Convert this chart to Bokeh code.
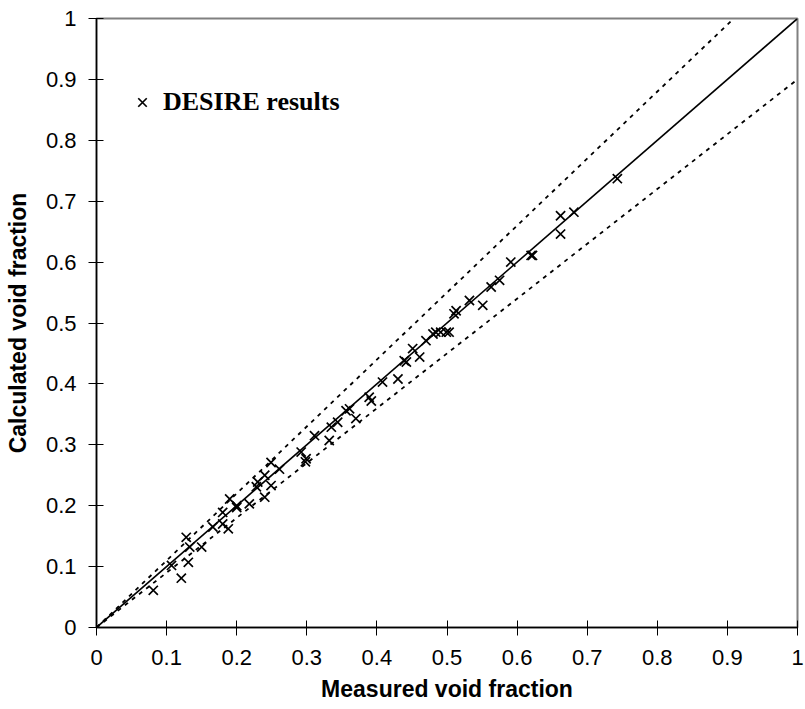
from bokeh.plotting import figure
from bokeh.models import Range1d, Legend, LegendItem, FixedTicker
from bokeh.embed import file_html
from bokeh.resources import INLINE

# Measured vs calculated void fraction (DESIRE results)
measured = [0.081, 0.121, 0.107, 0.131, 0.128, 0.133, 0.150, 0.166, 0.180, 0.188,
            0.190, 0.180, 0.200, 0.218, 0.240, 0.230, 0.240, 0.249, 0.249, 0.261,
            0.299, 0.292, 0.298, 0.311, 0.332, 0.335, 0.344, 0.361, 0.356, 0.370,
            0.389, 0.392, 0.408, 0.430, 0.439, 0.442, 0.461, 0.451, 0.470, 0.484,
            0.499, 0.510, 0.480, 0.491, 0.503, 0.513, 0.532, 0.551, 0.563, 0.575,
            0.591, 0.622, 0.620, 0.662, 0.662, 0.681, 0.743, 0.228, 0.200]
calculated = [0.061, 0.081, 0.102, 0.107, 0.148, 0.132, 0.132, 0.165, 0.170, 0.162,
              0.211, 0.189, 0.197, 0.203, 0.214, 0.239, 0.250, 0.271, 0.233, 0.260,
              0.277, 0.288, 0.272, 0.315, 0.307, 0.329, 0.337, 0.359, 0.356, 0.343,
              0.378, 0.372, 0.403, 0.408, 0.438, 0.436, 0.444, 0.458, 0.471, 0.485,
              0.485, 0.515, 0.482, 0.485, 0.485, 0.520, 0.537, 0.529, 0.559, 0.570,
              0.600, 0.611, 0.611, 0.646, 0.676, 0.682, 0.737, 0.231, 0.200]

# reference lines: perfect agreement and +/-10 % bands
ideal_x = [0.0, 1.0]
ideal_y = [0.0, 1.0]
upper_x = [0.0, 1.0 / 1.1]
upper_y = [0.0, 1.0]
lower_x = [0.0, 1.0]
lower_y = [0.0, 0.9]

ticks = [0, 0.1, 0.2, 0.3, 0.4, 0.5, 0.6, 0.7, 0.8, 0.9, 1]
tick_labels = {0: "0", 0.1: "0.1", 0.2: "0.2", 0.3: "0.3", 0.4: "0.4", 0.5: "0.5",
               0.6: "0.6", 0.7: "0.7", 0.8: "0.8", 0.9: "0.9", 1: "1"}

p = figure(width=805, height=709, output_backend="svg", toolbar_location=None,
           x_range=Range1d(0, 1), y_range=Range1d(0, 1),
           min_border_left=96, min_border_right=8, min_border_top=18,
           min_border_bottom=82)
p.background_fill_color = "white"
p.border_fill_color = "white"
p.outline_line_color = "#808080"
p.outline_line_width = 2
p.xgrid.visible = False
p.ygrid.visible = False

p.line(upper_x, upper_y, line_color="black", line_width=1.8, line_dash="4 5")
p.line(lower_x, lower_y, line_color="black", line_width=1.8, line_dash="4 5")
p.line(ideal_x, ideal_y, line_color="black", line_width=1.6)
r = p.scatter(measured, calculated, marker="x", size=13, line_color="black",
              line_width=1.7)

for ax in (p.xaxis[0], p.yaxis[0]):
    ax.ticker = FixedTicker(ticks=ticks)
    ax.major_label_overrides = tick_labels
    ax.minor_tick_line_color = None
    ax.major_tick_in = 7
    ax.major_tick_out = 8
    ax.major_tick_line_color = "black"
    ax.axis_line_color = "black"
    ax.axis_line_width = 1.5
    ax.major_label_text_font = "Liberation Sans"
    ax.major_label_text_font_size = "22px"
    ax.major_label_text_color = "black"
    ax.axis_label_text_font = "Liberation Sans"
    ax.axis_label_text_font_size = "23px"
    ax.axis_label_text_font_style = "bold"
    ax.axis_label_text_color = "black"

p.xaxis.axis_label = "Measured void fraction"
p.yaxis.axis_label = "Calculated void fraction"
p.xaxis.major_label_standoff = 14
p.yaxis.major_label_standoff = 12
p.xaxis.axis_label_standoff = 8
p.yaxis.axis_label_standoff = 12

legend = Legend(items=[LegendItem(label="DESIRE results", renderers=[r])],
                location=(31, 510), orientation="vertical",
                border_line_color=None, background_fill_alpha=0,
                padding=0, margin=0, glyph_width=30, glyph_height=30,
                label_height=28, label_standoff=6,
                label_text_font="Liberation Serif", label_text_font_size="26px",
                label_text_font_style="bold", label_text_color="black")
p.add_layout(legend)

open("out.html", "w").write(file_html(p, INLINE))
